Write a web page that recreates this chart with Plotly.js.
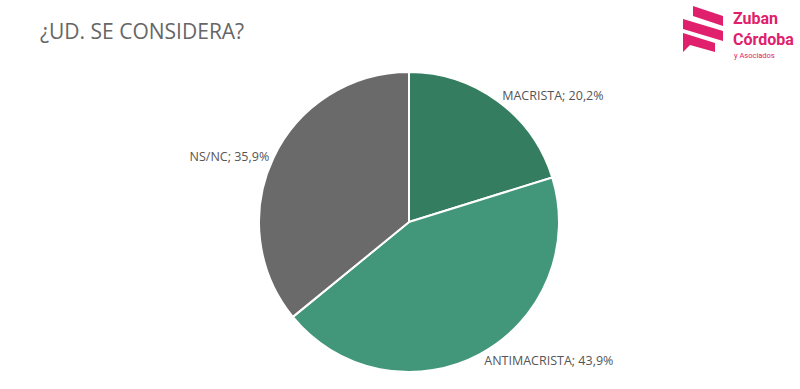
<!DOCTYPE html>
<html>
<head>
<meta charset="utf-8">
<script src="https://cdn.plot.ly/plotly-3.0.1.min.js"></script>
<style>
html,body{margin:0;padding:0;background:#fff;}
#chart{width:800px;height:389px;}
</style>
</head>
<body>
<div id="chart"></div>
<script>
const categories = ["MACRISTA", "ANTIMACRISTA", "NS/NC"];
const values = [20.2, 43.9, 35.9];
const valueLabels = ["20,2%", "43,9%", "35,9%"];
const sliceColors = ["#347d60", "#42977a", "#6a6a6a"];
const titleText = "¿UD. SE CONSIDERA?";

const texts = categories.map((c, i) => c + "; " + valueLabels[i]);

const fontFamily = "Open Sans, Noto Sans, sans-serif";
const pink = "#e0206c";

const trace = {
  type: "pie",
  labels: categories,
  values: values,
  text: texts,
  textinfo: "text",
  textposition: "outside",
  sort: false,
  direction: "clockwise",
  rotation: 0,
  hoverinfo: "none",
  marker: {colors: sliceColors, line: {color: "#ffffff", width: 2}},
  outsidetextfont: {family: fontFamily, size: 12.5, color: "#555555"},
  domain: {x: [259/800, 559/800], y: [1 - 372/389, 1 - 72/389]},
  showlegend: false
};

function px(x){return x/800;}
function py(y){return 1 - y/389;}
function poly(pts){
  return "M" + pts.map(p => px(p[0]).toFixed(5) + "," + py(p[1]).toFixed(5)).join(" L") + " Z";
}
const logoShapes = [
  [[693,6],[723,16],[723,26],[693,16]],
  [[683,19],[723,31],[723,41],[683,29]],
  [[683,33],[715,43],[715,52],[690,45],[683,52]]
].map(p => ({type: "path", xref: "paper", yref: "paper", path: poly(p), fillcolor: pink, line: {width: 0}}));

const logoFont = "Roboto, Open Sans, sans-serif";

const layout = {
  width: 800,
  height: 389,
  margin: {l: 0, r: 0, t: 0, b: 0},
  paper_bgcolor: "#ffffff",
  plot_bgcolor: "#ffffff",
  title: {
    text: titleText,
    font: {family: fontFamily, size: 21, color: "#666666"},
    x: 40/800, xanchor: "left",
    y: 1 - 32/389, yanchor: "middle"
  },
  shapes: logoShapes,
  annotations: [
    {text: "<b>Zuban</b><br><b>Córdoba</b>", xref: "paper", yref: "paper", x: px(731), y: py(29), xanchor: "left", yanchor: "middle", align: "left", showarrow: false, font: {family: logoFont, size: 16, color: pink}},
    {text: "y Asociados", xref: "paper", yref: "paper", x: px(732), y: py(56), xanchor: "left", yanchor: "middle", showarrow: false, font: {family: logoFont, size: 7.5, color: pink}}
  ]
};

Plotly.newPlot("chart", [trace], layout, {displayModeBar: false, staticPlot: true});
</script>
</body>
</html>
